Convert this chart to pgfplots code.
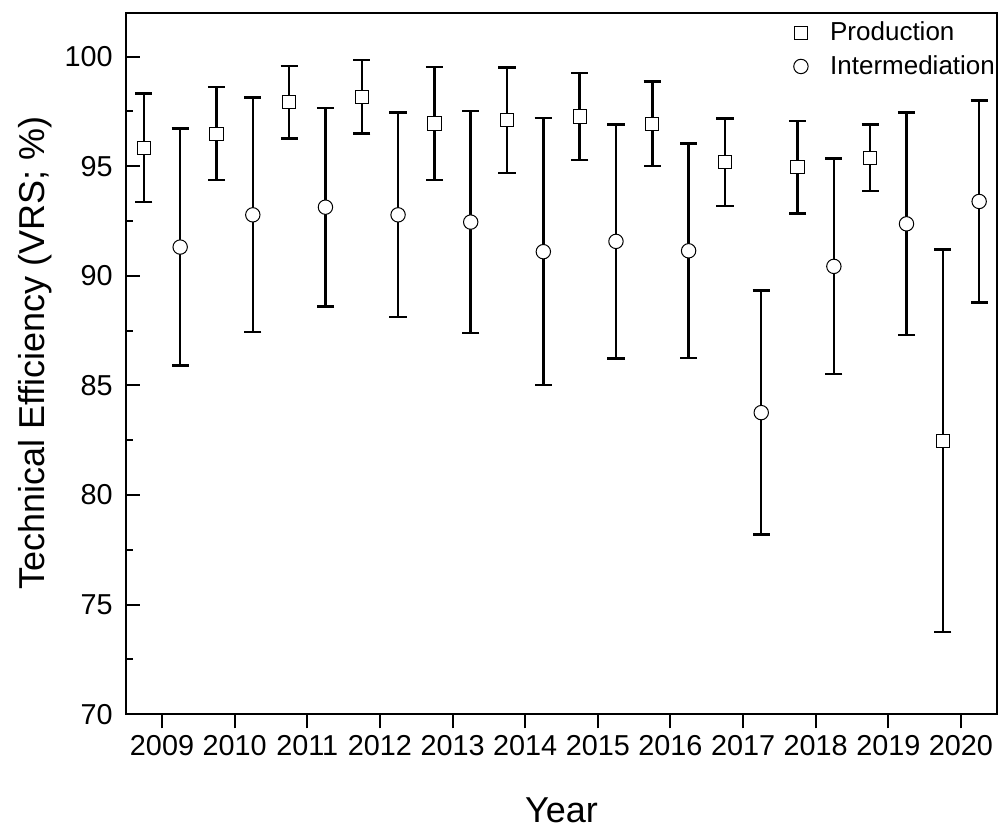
\documentclass[border=0pt]{standalone}
\usepackage{fontspec}
\setmainfont{Liberation Sans}
\usepackage{pgfplots}
\usepackage{pgfplotstable}
\pgfplotsset{compat=1.18}

\pgfplotstableread{
year y err
2009 95.84 2.47
2010 96.48 2.12
2011 97.91 1.65
2012 98.17 1.67
2013 96.95 2.57
2014 97.09 2.41
2015 97.27 1.98
2016 96.94 1.93
2017 95.18 1.99
2018 94.96 2.11
2019 95.39 1.52
2020 82.47 8.72
}\prodtab

\pgfplotstableread{
year y err
2009 91.31 5.41
2010 92.78 5.35
2011 93.13 4.52
2012 92.78 4.66
2013 92.45 5.06
2014 91.10 6.09
2015 91.57 5.34
2016 91.14 4.90
2017 83.76 5.56
2018 90.43 4.92
2019 92.37 5.08
2020 93.39 4.60
}\intertab

\begin{document}
\begin{tikzpicture}
\begin{axis}[
  scale only axis,
  width=435.8pt, height=350.8pt,
  xmin=2008.5, xmax=2020.5,
  ymin=70, ymax=102,
  axis line style={line width=1pt},
  tick pos=left,
  xtick={2009,2010,2011,2012,2013,2014,2015,2016,2017,2018,2019,2020},
  ytick={70,75,80,85,90,95,100},
  minor y tick num=1,
  xtick align=outside,
  ytick align=inside,
  major tick length=7pt,
  minor tick length=3.5pt,
  tick style={line width=1pt, black},
  /pgf/number format/1000 sep={},
  /pgf/number format/assume math mode=true,
  ticklabel style={font=\fontsize{14.4}{16}\selectfont},
  yticklabel style={xshift=-3pt},
  xlabel={Year},
  ylabel={Technical Efficiency (VRS; \%)},
  label style={font=\fontsize{18}{20}\selectfont},
  xlabel style={at={(axis description cs:0.5,0)}, anchor=base, yshift=-54.3pt},
  ylabel style={at={(axis description cs:-0.104,0.515)}, anchor=center},
  legend style={at={(1,1)}, anchor=north east, draw=none, fill=none,
    font=\fontsize{13}{15}\selectfont, inner sep=0pt, xshift=1pt, yshift=-2.5pt,
    row sep=1.8pt, column sep=9pt},
  legend cell align=left,
]
\addplot[only marks, mark=square*, mark size=3.3pt,
  mark options={fill=white, draw=black, line width=0.5pt},
  error bars/.cd, y dir=both, y explicit,
  error bar style={line width=1.25pt, black},
  error mark options={rotate=90, mark size=4.3pt, line width=1.25pt, black}]
  table[x expr=\thisrow{year}-0.25, y=y, y error=err] {\prodtab};
\addlegendentry{Production}
\addplot[only marks, mark=*, mark size=3.6pt,
  mark options={fill=white, draw=black, line width=0.5pt},
  error bars/.cd, y dir=both, y explicit,
  error bar style={line width=1.25pt, black},
  error mark options={rotate=90, mark size=4.3pt, line width=1.25pt, black}]
  table[x expr=\thisrow{year}+0.25, y=y, y error=err] {\intertab};
\addlegendentry{Intermediation}
\end{axis}
\pgfresetboundingbox
\path[use as bounding box] ([shift={(-62.85pt,-57.35pt)}]current axis.south west) rectangle ([shift={(4.35pt,6.35pt)}]current axis.north east);
\end{tikzpicture}
\end{document}
